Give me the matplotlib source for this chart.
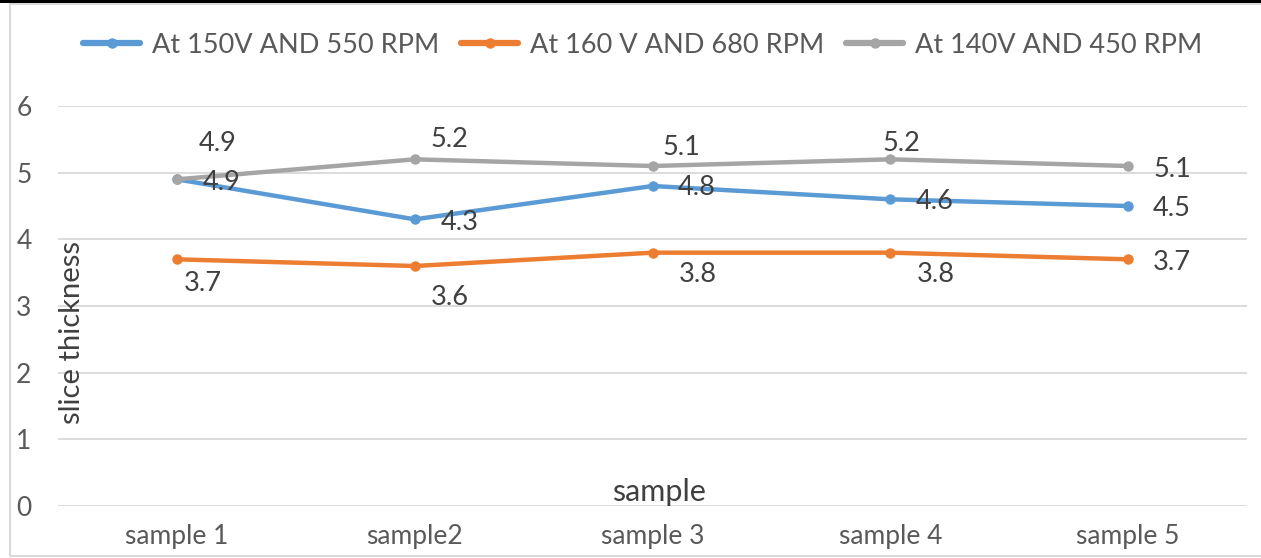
import matplotlib
matplotlib.use('Agg')
import matplotlib.pyplot as plt
from matplotlib.patches import Rectangle
from matplotlib.lines import Line2D

plt.rcParams['font.family'] = ['Lato', 'DejaVu Sans']

# data
samples = ['sample 1', 'sample2', 'sample 3', 'sample 4', 'sample 5']
v150 = [4.9, 4.3, 4.8, 4.6, 4.5]
v160 = [3.7, 3.6, 3.8, 3.8, 3.7]
v140 = [4.9, 5.2, 5.1, 5.2, 5.1]
names = ['At 150V AND 550 RPM', 'At 160 V AND 680 RPM', 'At 140V AND 450 RPM']
colors = ['#5B9BD5', '#ED7D31', '#A5A5A5']

# label offsets in pixels (dx, dy up)
off150 = [(45, -3), (45, -3), (44, -1), (44, -2), (44, -2)]
off160 = [(26, -24), (35, -31), (45, -22), (45, -22), (44, -3)]
off140 = [(41, 36), (35, 20), (29, 19), (11, 16), (44, -3)]

W, H = 1261, 558
fig = plt.figure(figsize=(W / 100, H / 100), dpi=100)
ax = fig.add_axes([58 / W, 1 - 506 / H, 1189 / W, 400 / H])

x = list(range(len(samples)))
for vals, col, name, offs in [(v150, colors[0], names[0], off150),
                              (v160, colors[1], names[1], off160),
                              (v140, colors[2], names[2], off140)]:
    ax.plot(x, vals, color=col, lw=3.2, marker='o', ms=6.5, label=name,
            solid_capstyle='round', zorder=3)
    for xi, v, (dx, dy) in zip(x, vals, offs):
        ax.annotate(f'{v:.1f}', (xi, v), xytext=(dx, dy), textcoords='offset pixels',
                    ha='center', va='center', fontsize=19.5, color='#404040', zorder=4)

ax.set_xlim(-0.5, len(samples) - 0.5)
ax.set_ylim(0, 6)
ax.set_yticks(range(0, 7))
ax.set_xticks(x)
ax.set_xticklabels(samples)
ax.grid(axis='y', color='#d9d9d9', lw=1.3)
ax.set_axisbelow(True)
for s in ax.spines.values():
    s.set_visible(False)
ax.tick_params(axis='both', length=0, labelsize=19, labelcolor='#595959')
ax.tick_params(axis='y', pad=19)
ax.tick_params(axis='x', pad=13)

fig.text(659 / W, 1 - 492 / H, 'sample', ha='center', va='center', fontsize=22, color='#404040')
fig.text(72 / W, 1 - 332 / H, 'slice thickness', ha='center', va='center', rotation=90,
         fontsize=21, color='#404040')

handles = [Line2D([], [], color=c, lw=4.5, marker='o', ms=6.5, solid_capstyle='round') for c in colors]
leg = fig.legend(handles, names, loc='center', bbox_to_anchor=(643 / W, 1 - 45 / H), ncol=3,
                 frameon=False, fontsize=19.5, handlelength=2.1, handletextpad=0.45,
                 columnspacing=0.8)
for t in leg.get_texts():
    t.set_color('#595959')

# chart frame and black top strip
fig.add_artist(Rectangle((10 / W, 1 - 556 / H), 1.2, (556 - 4) / H, transform=fig.transFigure,
                         fill=False, edgecolor='#d9d9d9', lw=1.5))
fig.add_artist(Rectangle((0, 1 - 3 / H), 1, 3 / H, transform=fig.transFigure,
                         color='black', lw=0))

fig.savefig('out.png', dpi=100)
